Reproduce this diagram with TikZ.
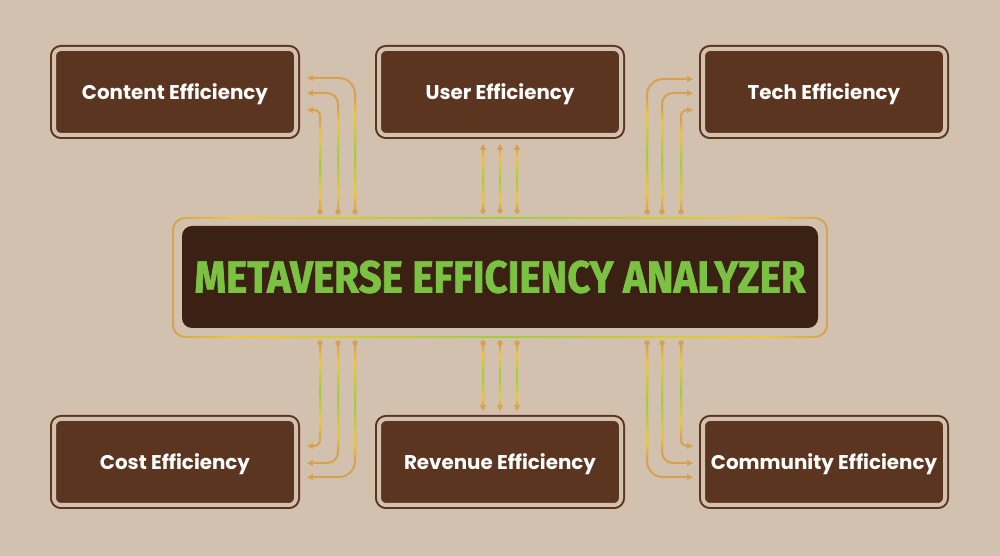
\documentclass[tikz,border=0pt]{standalone}
\usepackage{fontspec}
\usepackage{graphicx}
\usetikzlibrary{arrows.meta, calc}
\newfontfamily\labelfont{Poppins}
\newfontfamily\titlefont{Fira Sans}[BoldFeatures={FakeBold=1.6}]
\definecolor{BgColor}{RGB}{211,193,176}
\definecolor{BoxColor}{RGB}{92,53,32}
\definecolor{CoreColor}{RGB}{58,33,20}
\definecolor{TitleColor}{RGB}{124,194,66}
\definecolor{WireColor}{RGB}{212,162,80}
\definecolor{WireYellow}{RGB}{240,200,50}
\definecolor{WireGreen}{RGB}{160,205,60}
\pgfdeclareverticalshading{wirefade}{100bp}{color(0bp)=(WireColor); color(25bp)=(WireColor); color(33bp)=(WireYellow); color(50bp)=(WireGreen); color(67bp)=(WireYellow); color(75bp)=(WireColor); color(100bp)=(WireColor)}
\pgfdeclarehorizontalshading{framefade}{100bp}{color(0bp)=(WireColor); color(25bp)=(WireColor); color(30bp)=(WireYellow); color(50bp)=(WireGreen); color(70bp)=(WireYellow); color(75bp)=(WireColor); color(100bp)=(WireColor)}
\tikzset{
  box/.style={rectangle, rounded corners=0.14cm, draw=BoxColor, line width=0.04cm, double=BgColor, double distance=0.08cm, fill=BoxColor, minimum width=4.84cm, minimum height=1.72cm, text height=2.15ex, text depth=0.2ex, text=white, font=\labelfont\bfseries\fontsize{11.3}{13}\selectfont},
  core/.style={rectangle, rounded corners=0.2cm, fill=CoreColor, minimum width=12.72cm, minimum height=2.04cm, inner sep=0pt, text=TitleColor},
  wire/.style={WireColor, line width=0.04cm, -{Triangle[length=3.4pt, width=3.4pt]}},
  wire dot/.style={fill=WireColor},
  wire glow/.style={shading=wirefade}
}

\begin{document}
\begin{tikzpicture}
  % Canvas
  \useasboundingbox (0,0) rectangle (20,11.12);
  \fill[BgColor] (0,0) rectangle (20,11.12);

  % Frame round the analyzer
  \shade[shading=framefade, rounded corners=0.26cm] (3.44,4.36) rectangle (16.56,6.78);
  \fill[BgColor, rounded corners=0.23cm] (3.48,4.40) rectangle (16.52,6.74);

  % Analyzer
  \node[core] (analyzer) at (10,5.58) {\resizebox{12.22cm}{0.64cm}{\titlefont\bfseries METAVERSE EFFICIENCY ANALYZER}};

  % Efficiency boxes
  \node[box] (content) at (3.5,9.28) {Content Efficiency};
  \node[box] (user) at (10,9.28) {User Efficiency};
  \node[box] (tech) at (16.48,9.28) {Tech Efficiency};
  \node[box] (cost) at (3.5,1.88) {Cost Efficiency};
  \node[box] (revenue) at (10,1.88) {Revenue Efficiency};
  \node[box] (community) at (16.48,1.88) {Community Efficiency};

  % Content links
  \foreach \x/\dy/\r/\ytop [count=\i] in {6.4/-0.36/0.12/8.72, 6.76/-0.02/0.22/8.98, 7.1/0.28/0.32/9.18} {
    \coordinate (cl\i) at (\x,6.88);
    \draw[wire, rounded corners=\r cm] (cl\i) |- ($(content.center)+(2.64,\dy)$);
    \shade[wire glow] (\x-0.02,6.92) rectangle (\x+0.02,\ytop);
    \fill[wire dot] (cl\i) circle (0.055);
  }

  % User links
  \foreach \x [count=\i] in {9.66,10,10.34} {
    \coordinate (ul\i) at (\x,6.9);
    \draw[wire] (ul\i) -- ($(user.center)+(\x-10,-1.04)$);
    \shade[wire glow] (\x-0.02,6.94) rectangle (\x+0.02,8.14);
    \fill[wire dot] (ul\i) circle (0.055);
  }

  % Tech links
  \foreach \x/\dy/\r/\ytop [count=\i] in {13.62/-0.36/0.12/8.72, 13.24/-0.02/0.22/8.98, 12.94/0.26/0.32/9.16} {
    \coordinate (tl\i) at (\x,6.88);
    \draw[wire, rounded corners=\r cm] (tl\i) |- ($(tech.center)+(-2.62,\dy)$);
    \shade[wire glow] (\x-0.02,6.92) rectangle (\x+0.02,\ytop);
    \fill[wire dot] (tl\i) circle (0.055);
  }

  % Cost links
  \foreach \x/\dy/\r/\ybot [count=\i] in {6.4/0.32/0.12/2.36, 6.76/-0.02/0.22/2.1, 7.1/-0.3/0.32/1.92} {
    \coordinate (bl\i) at (\x,4.26);
    \draw[wire, rounded corners=\r cm] (bl\i) |- ($(cost.center)+(2.64,\dy)$);
    \shade[wire glow] (\x-0.02,\ybot) rectangle (\x+0.02,4.22);
    \fill[wire dot] (bl\i) circle (0.055);
  }

  % Revenue links
  \foreach \x [count=\i] in {9.66,10,10.34} {
    \coordinate (rl\i) at (\x,4.26);
    \draw[wire] (rl\i) -- ($(revenue.center)+(\x-10,1.02)$);
    \shade[wire glow] (\x-0.02,2.98) rectangle (\x+0.02,4.22);
    \fill[wire dot] (rl\i) circle (0.055);
  }

  % Community links
  \foreach \x/\dy/\r/\ybot [count=\i] in {13.62/0.32/0.12/2.36, 13.24/-0.02/0.22/2.1, 12.94/-0.3/0.32/1.92} {
    \coordinate (ml\i) at (\x,4.26);
    \draw[wire, rounded corners=\r cm] (ml\i) |- ($(community.center)+(-2.62,\dy)$);
    \shade[wire glow] (\x-0.02,\ybot) rectangle (\x+0.02,4.22);
    \fill[wire dot] (ml\i) circle (0.055);
  }
\end{tikzpicture}
\end{document}
